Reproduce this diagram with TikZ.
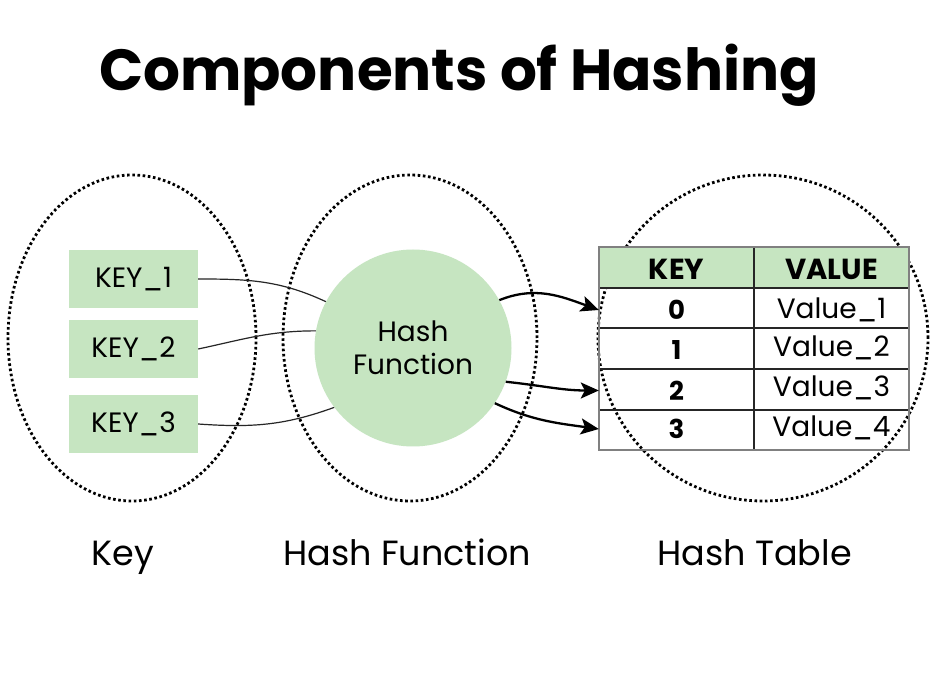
\documentclass[tikz,border=0pt]{standalone}
\usepackage{fontspec}
\setmainfont{Poppins}
\usetikzlibrary{shapes.geometric,arrows.meta}
\definecolor{hgreen}{RGB}{198,229,193}
\definecolor{tgray}{RGB}{128,128,128}
\tikzset{
  dotell/.style={ellipse, draw=black, line width=2.8pt, dash pattern=on 2.6pt off 2.6pt, inner sep=0pt},
  keybox/.style={rectangle, fill=hgreen, minimum width=129pt, minimum height=58pt, inner sep=0pt, font=\fontsize{28}{30}\selectfont},
  hcircle/.style={circle, fill=hgreen, minimum size=197pt, inner sep=0pt, align=center, font=\fontsize{28}{33}\selectfont},
  cell/.style={rectangle, minimum width=155pt, inner sep=0pt, font=\fontsize{28}{30}\selectfont},
  numcell/.style={cell, font=\bfseries\fontsize{26}{28}\selectfont},
  thinlink/.style={line width=1.2pt, draw=black!85},
  arr/.style={line width=2.3pt, -{Stealth[length=18pt,width=16pt,inset=4pt]}},
  lbl/.style={font=\fontsize{35}{40}\selectfont, anchor=base}
}
\begin{document}
\begin{tikzpicture}[x=1pt,y=1pt]
\useasboundingbox[fill=white] (0,0) rectangle (948,678);
% title
\node[anchor=base, font=\bfseries\fontsize{58}{66}\selectfont] (title) at (459,587) {Components of Hashing};
% ellipses
\node[dotell, minimum width=248pt, minimum height=326pt] (e1) at (132,340) {};
\node[dotell, minimum width=254pt, minimum height=326pt] (e2) at (410,340) {};
\node[dotell, minimum width=330pt, minimum height=326pt] (e3) at (763,340) {};
% keys
\node[keybox] (k1) at (133.5,399) {KEY\_1};
\node[keybox] (k2) at (133.5,329) {KEY\_2};
\node[keybox] (k3) at (133.5,254) {KEY\_3};
% hash function
\node[hcircle] (hf) at (413,330) {Hash\\Function};
% table
\fill[hgreen] (599,390) rectangle (909,431);
\node[cell, minimum height=41pt, font=\bfseries\fontsize{29}{30}\selectfont] (hk) at (676.5,409) {KEY};
\node[cell, minimum height=41pt, font=\bfseries\fontsize{29}{30}\selectfont] (hv) at (831.5,409) {VALUE};
\node[numcell, minimum height=40pt] (c0) at (676.5,368) {0};
\node[numcell, minimum height=41pt] (c1) at (676.5,327.5) {1};
\node[numcell, minimum height=41pt] (c2) at (676.5,287.5) {2};
\node[numcell, minimum height=40pt] (c3) at (676.5,249) {3};
\node[cell, minimum height=40pt] (v0) at (831.5,368.5) {Value\_1};
\node[cell, minimum height=41pt] (v1) at (831.5,330.5) {Value\_2};
\node[cell, minimum height=41pt] (v2) at (831.5,290.5) {Value\_3};
\node[cell, minimum height=40pt] (v3) at (831.5,250) {Value\_4};
\draw[line width=1.2pt, black!85] (599,390) -- (909,390) (599,350) -- (909,350) (599,309) -- (909,309) (599,268) -- (909,268) (754,431) -- (754,228);
\draw[line width=1.4pt, tgray] (599,228) rectangle (909,431);
% links keys -> hash
\draw[thinlink] (k1.east) to[out=0,in=155] (hf.152);
\draw[thinlink] (k2.east) to[out=12,in=180] (hf.170);
\draw[thinlink] (k3.east) to[out=-4,in=200] (hf.217);
% arrows hash -> table
\draw[arr] (hf.29) to[out=22,in=160] (c0.west);
\draw[arr] (hf.-20) to[out=-6,in=180] (c2.west);
\draw[arr] (hf.-34) to[out=-25,in=172] (c3.west);
% bottom labels
\node[lbl] (lk) at (123,113) {Key};
\node[lbl] (lh) at (407,113) {Hash Function};
\node[lbl] (lt) at (754.5,113) {Hash Table};
\end{tikzpicture}
\end{document}
